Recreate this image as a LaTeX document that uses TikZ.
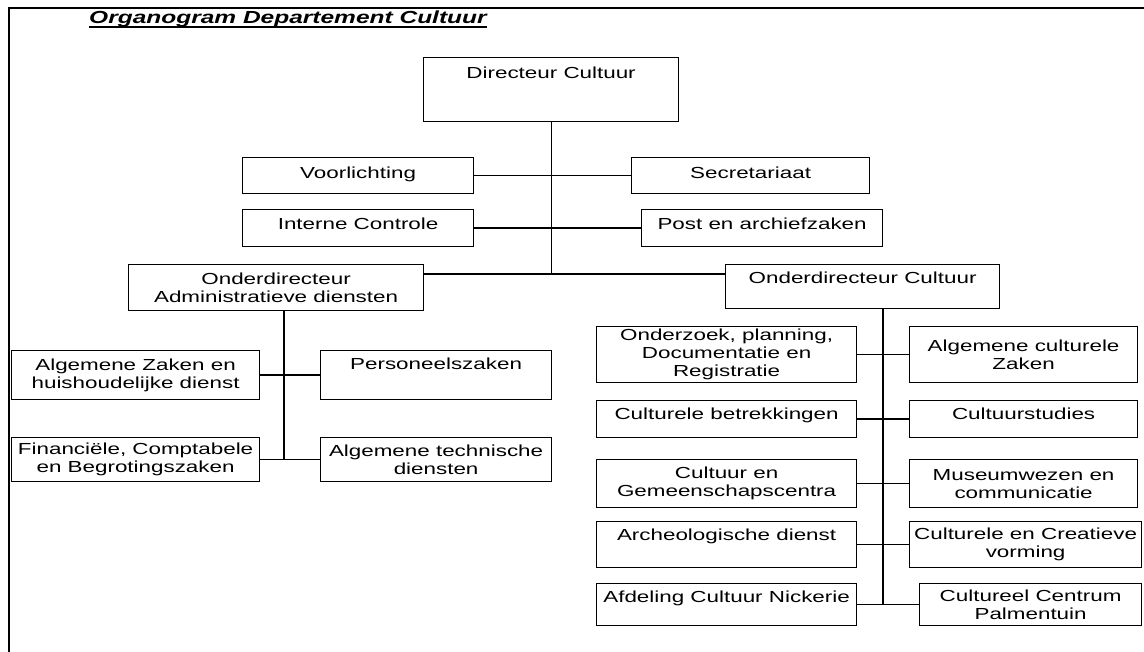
\documentclass[tikz,border=0pt]{standalone}
\usepackage{fontspec}
\setmainfont{Liberation Sans}[FakeStretch=1.4]

\begin{document}
\begin{tikzpicture}[x=1pt, y=-1pt,
  unit/.style={draw, line width=1.2pt, anchor=north west, align=center, inner xsep=2pt, inner ysep=0pt, font=\fontsize{16}{18}\selectfont},
  link/.style={line width=1.2pt}]
  \useasboundingbox (0,0) rectangle (1144,652);
  % frame and title
  \draw[line width=1.5pt] (9,652) -- (9,8) -- (1144,8);
  \node[anchor=base west, inner sep=0pt, font=\fontsize{17.5}{18}\selectfont\bfseries\itshape] (title) at (89,24) {Organogram Departement Cultuur};
  \draw[line width=1.3pt] ([yshift=-3pt]title.base west) -- ([yshift=-3pt]title.base east);

  % top
  \node[unit, minimum width=255pt, text height=20.7pt, text depth=43.3pt] (dir) at (423,57) {Directeur Cultuur};
  \node[unit, minimum width=231pt, text height=20.5pt, text depth=15.5pt] (voor) at (242,157) {Voorlichting};
  \node[unit, minimum width=238pt, text height=20.5pt, text depth=15.5pt] (secr) at (631,157) {Secretariaat};
  \node[unit, minimum width=231pt, text height=19.5pt, text depth=17.5pt] (intc) at (242,209) {Interne Controle};
  \node[unit, minimum width=241pt, text height=19.5pt, text depth=17.5pt] (post) at (641,209) {Post en archiefzaken};
  \node[unit, minimum width=295pt, minimum height=46pt] (oadm) at (128,264) {Onderdirecteur\\Administratieve diensten};
  \node[unit, minimum width=274pt, text height=18.5pt, text depth=25.5pt] (ocul) at (725,264) {Onderdirecteur Cultuur};

  % administratieve diensten
  \node[unit, minimum width=248pt, minimum height=49pt] (azak) at (11,350) {Algemene Zaken en\\huishoudelijke dienst};
  \node[unit, minimum width=231pt, text height=18.5pt, text depth=30.5pt] (pers) at (320,350) {Personeelszaken};
  \node[unit, minimum width=248pt, minimum height=44pt] (fin) at (11,437) {Financiële, Comptabele\\en Begrotingszaken};
  \node[unit, minimum width=231pt, minimum height=44pt] (atd) at (320,437) {Algemene technische\\diensten};

  % cultuur
  \node[unit, minimum width=260pt, minimum height=56pt] (ond) at (596,326) {Onderzoek, planning,\\Documentatie en\\Registratie};
  \node[unit, minimum width=228pt, minimum height=56pt] (alg) at (909,326) {Algemene culturele\\Zaken};
  \node[unit, minimum width=260pt, text height=18.5pt, text depth=18.5pt] (cbet) at (596,400) {Culturele betrekkingen};
  \node[unit, minimum width=228pt, text height=18.5pt, text depth=18.5pt] (cstud) at (909,400) {Cultuurstudies};
  \node[unit, minimum width=260pt, minimum height=48pt] (cgem) at (596,459) {Cultuur en\\Gemeenschapscentra};
  \node[unit, minimum width=228pt, minimum height=48pt] (mus) at (909,459) {Museumwezen en\\communicatie};
  \node[unit, minimum width=260pt, text height=18.5pt, text depth=27.5pt] (arch) at (596,521) {Archeologische dienst};
  \node[unit, minimum width=232pt, minimum height=46pt] (ccv) at (909,521) {Culturele en Creatieve\\vorming};
  \node[unit, minimum width=260pt, text height=18.5pt, text depth=23.5pt] (afd) at (596,583) {Afdeling Cultuur Nickerie};
  \node[unit, minimum width=222pt, minimum height=42pt] (palm) at (919,583) {Cultureel Centrum\\Palmentuin};

  % lines
  \coordinate (split) at (550.5,274);
  \coordinate (abot) at (284,459);
  \coordinate (cbot) at (883,604);
  \draw[link] (dir.south) -- (dir.south |- split);
  \draw[link] (voor.east) -- (secr.west);
  \draw[link] (intc.east) -- (post.west);
  \draw[link] (oadm.east |- split) -- (ocul.west |- split);
  \draw[link] (oadm.south -| abot) -- (abot);
  \draw[link] (azak.east) -- (pers.west);
  \draw[link] (fin.east) -- (atd.west);
  \draw[link] (ocul.south -| cbot) -- (cbot);
  \foreach \l/\r in {ond/alg, cbet/cstud, cgem/mus, arch/ccv, afd/palm}
    \draw[link] (\l.east) -- (\r.west);
\end{tikzpicture}
\end{document}
